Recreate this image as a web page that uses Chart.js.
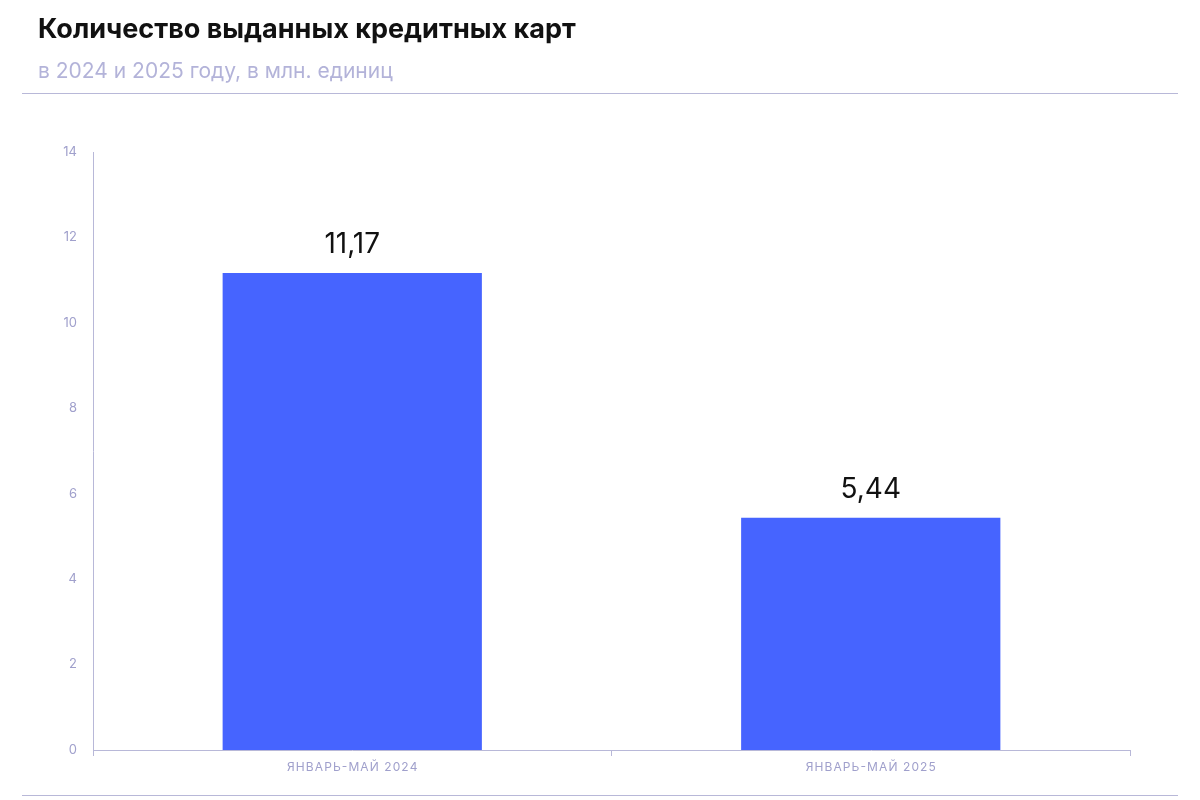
<!DOCTYPE html>
<html><head><meta charset="utf-8">
<script src="https://cdn.jsdelivr.net/npm/chart.js@4"></script>
<style>
body{margin:0;width:1200px;height:800px;background:#fff;font-family:"Inter","Noto Sans",sans-serif;position:relative;overflow:hidden}
#t{position:absolute;left:38px;top:12px;font-size:27px;font-weight:700;color:#111}
#s{position:absolute;left:38px;top:58px;font-size:21px;color:#b3b3d9}
.hl{position:absolute;left:22px;width:1156px;height:1px;background:#b8b8d8}
#wrap{position:absolute;left:0;top:0;width:1200px;height:800px}
</style></head><body>
<div id="wrap"><canvas id="c"></canvas></div>
<div id="t">Количество выданных кредитных карт</div>
<div id="s">в 2024 и 2025 году, в млн. единиц</div>
<div class="hl" style="top:93px"></div>
<div class="hl" style="top:795px"></div>
<script>
const categories=["ЯНВАРЬ-МАЙ 2024","ЯНВАРЬ-МАЙ 2025"];
const values=[11.17,5.44];
const labels=["11,17","5,44"];
const yTicks=[0,2,4,6,8,10,12,14];
const axisCol="#b8b8d8", tickCol="#a0a0cc";
const dl={id:"dl",afterDatasetsDraw(ch){const c=ch.ctx;const m=ch.getDatasetMeta(0);c.save();c.font='28px "Inter","Noto Sans",sans-serif';c.fillStyle="#111";c.textAlign="center";c.textBaseline="bottom";m.data.forEach((b,i)=>c.fillText(labels[i],b.x,b.y-14));c.restore();}};
new Chart(document.getElementById("c"),{type:"bar",
data:{labels:categories,datasets:[{data:values,backgroundColor:"#4664ff",categoryPercentage:1,barPercentage:0.5}]},
options:{responsive:true,maintainAspectRatio:false,animation:false,
layout:{padding:{left:0,right:70,top:152,bottom:5}},
plugins:{legend:{display:false},tooltip:{enabled:false}},
scales:{
y:{min:0,max:14,afterFit(s){s.width=93},afterBuildTicks(s){s.ticks=yTicks.map(v=>({value:v}))},
grid:{display:false,drawTicks:false},border:{color:axisCol},
ticks:{color:tickCol,padding:16,font:{size:13,family:"Inter"}}},
x:{afterFit(s){s.height=45},grid:{offset:true,drawOnChartArea:false,color:axisCol,tickLength:6},border:{color:axisCol},
ticks:{color:tickCol,font:{size:12,family:"Inter"},padding:4,callback:(v,i)=>categories[i].split("").join(String.fromCharCode(8202))}}
}},plugins:[dl]});
</script></body></html>
